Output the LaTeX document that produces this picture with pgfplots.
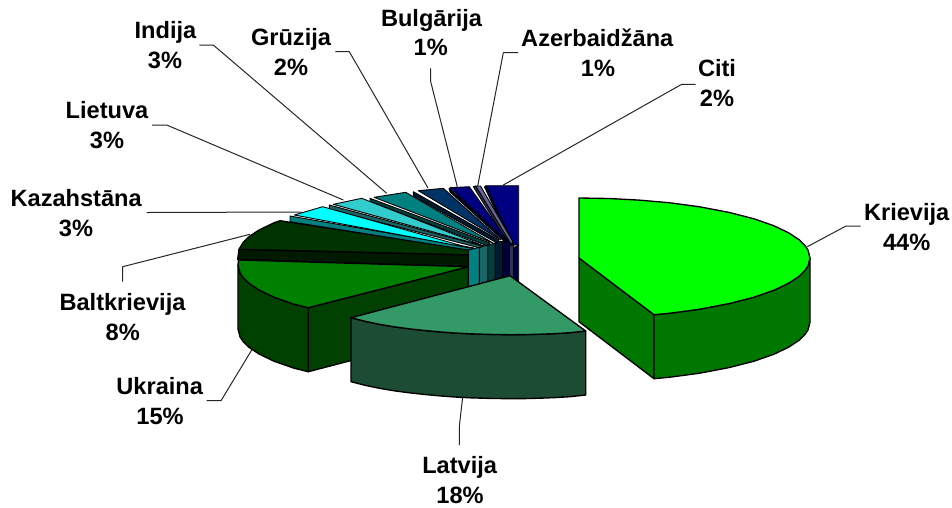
\documentclass[border=0pt]{standalone}
\usepackage{fontspec}
\setmainfont{Liberation Sans}
\usepackage{pgfplots}
\pgfplotsset{compat=1.18}
\definecolor{krT}{HTML}{00FF00}\definecolor{krS}{HTML}{007800}
\definecolor{laT}{HTML}{339966}\definecolor{laS}{HTML}{1C4C33}
\definecolor{ukT}{HTML}{008000}\definecolor{ukS}{HTML}{004000}
\definecolor{baT}{HTML}{003300}\definecolor{baS}{HTML}{001A00}
\definecolor{kaT}{HTML}{00FFFF}\definecolor{kaS}{HTML}{008080}
\definecolor{liT}{HTML}{33CCCC}\definecolor{liS}{HTML}{1A6666}
\definecolor{inT}{HTML}{008080}\definecolor{inS}{HTML}{004040}
\definecolor{grT}{HTML}{003366}\definecolor{grS}{HTML}{001A33}
\definecolor{buT}{HTML}{000080}\definecolor{buS}{HTML}{000040}
\definecolor{azT}{HTML}{666699}\definecolor{azS}{HTML}{33334D}
\definecolor{ciT}{HTML}{000080}\definecolor{ciS}{HTML}{000040}
\tikzset{
 face/.style={draw=black,line width=1.35pt,line join=round,fill=#1},
 fan/.style={draw=black,line width=0.9pt,line join=round,fill=#1},
 lead/.style={draw=black!85,line width=1pt,line join=round},
 lab/.style={anchor=base,font=\fontsize{23.6}{26}\selectfont\bfseries,inner sep=0pt,text=black}
}
\begin{document}
\begin{tikzpicture}
\begin{axis}[
 width=952pt,height=507pt,scale only axis,
 xmin=0,xmax=952,ymin=0,ymax=507,y dir=reverse,
 axis line style={draw=none},ticks=none,clip=false]
% leader lines
\addplot[lead] coordinates {(860.7,226)(846,226)(807.3,246.7)};
\addplot[lead] coordinates {(462.7,396.7)(459.3,426.7)(459.3,445)};
\addplot[lead] coordinates {(206.7,400.7)(221,400.7)(251.7,350)};
\addplot[lead] coordinates {(122.7,281.7)(122.7,266.7)(250,234.3)};
\addplot[lead] coordinates {(146.7,212.5)(301.7,212)};
\addplot[lead] coordinates {(152,125)(166.7,125)(343.3,200)};
\addplot[lead] coordinates {(199.3,45)(213.3,45)(386.7,193.3)};
\addplot[lead] coordinates {(335.3,51.7)(349.3,51.7)(428,188)};
\addplot[lead] coordinates {(430.7,68.3)(430.7,81.7)(457.3,186.7)};
\addplot[lead] coordinates {(518,52.7)(503.3,52.7)(477.7,186)};
\addplot[lead] coordinates {(695.7,84.3)(681.7,84.3)(503.3,185)};
% Baltkrievija
\addplot[face=baT] coordinates {(239,249.4)(243,242.6)(249,236.7)(259,230)(274,222.8)(280,220.7)(470,250)(468.3,255)} --cycle;
\addplot[face=baS] coordinates {(239,249.4)(237.7,259.3)(468.3,266.7)(468.3,255)} --cycle;
% Ukraina
\addplot[face=ukS] coordinates {(308.3,307.7)(468.3,266.7)(468.3,330)(308.3,371.7)} --cycle;
\addplot[face=ukS] coordinates {(238,265)(240,272.9)(243,277.4)(249,283.3)(259,290)(274,297.2)(294,304.2)(308.3,307.7)(308.3,371.7)(294,368.2)(274,361.2)(259,354)(249,347.3)(243,341.4)(240,336.9)(238,329)} --cycle;
\addplot[face=ukT] coordinates {(238.5,260)(238,265)(240,272.9)(243,277.4)(249,283.3)(259,290)(274,297.2)(294,304.2)(308.3,307.7)(468.3,266.7)} --cycle;
% Citi
\addplot[fan=ciS] coordinates {(513.3,248)(518.7,245)(518.7,283)(513.3,283)} --cycle;
\addplot[fan=ciS] coordinates {(484.5,187)(486,185.7)(514,245)(513.3,249)} --cycle;
\addplot[fan=ciT] coordinates {(486,185.7)(518.7,185.7)(518.7,245)(514,245)} --cycle;
% Azerbaidzana
\addplot[fan=azS] coordinates {(509.3,245)(513.3,245)(513.3,283)(509.3,283)} --cycle;
\addplot[fan=azS] coordinates {(473.3,186.7)(475.7,186)(511.7,243)(510,246)} --cycle;
\addplot[fan=azT] coordinates {(475.7,186)(480.5,186)(512.5,241)(511.7,245)} --cycle;
% Bulgarija
\addplot[fan=buS] coordinates {(502,241)(509.3,241)(509.3,298)(502,298)} --cycle;
\addplot[fan=buS] coordinates {(449,188.3)(450,192)(505,242)(508,241)} --cycle;
\addplot[fan=buT] coordinates {(450,187.7)(469.3,186.7)(508.3,241.7)} --cycle;
% Gruzija
\addplot[fan=grS] coordinates {(495,241)(502,241)(502,298)(495,298)} --cycle;
\addplot[fan=grS] coordinates {(413.3,191.7)(413.3,196)(497,243)(499,240)} --cycle;
\addplot[fan=grT] coordinates {(418.3,190.7)(443.3,188.3)(501,240)} --cycle;
% Indija
\addplot[fan=inS] coordinates {(487.7,245)(495,243)(495,298)(487.7,298)} --cycle;
\addplot[fan=inS] coordinates {(370,198.3)(370,201.7)(488,246)(490,243)} --cycle;
\addplot[fan=inT] coordinates {(374,197.3)(405.7,192.3)(493,243)} --cycle;
% Lietuva
\addplot[fan=liS] coordinates {(479.3,247.3)(487.7,245)(487.7,298)(479.3,298)} --cycle;
\addplot[fan=liS] coordinates {(329.3,205)(329.3,209.3)(480,248)(482,246)} --cycle;
\addplot[fan=liT] coordinates {(333.3,204.3)(361.7,198.3)(484,246)} --cycle;
% Kazahstana
\addplot[fan=kaS] coordinates {(468.3,250)(479.3,247.3)(479.3,298)(468.3,298)} --cycle;
\addplot[fan=kaS] coordinates {(290,216)(290,221.7)(468.3,250)(474,248)} --cycle;
\addplot[fan=kaT] coordinates {(294.3,215)(322.7,206.7)(470,248)} --cycle;
% Latvija
\addplot[face=laS] coordinates {(351,317.7)(365,321.3)(380.5,324.5)(395,326.9)(410,328.9)(425,330.5)(440,331.9)(455,333)(470,333.8)(490,334.4)(510,334.7)(525,334.6)(540,334.2)(555,333.6)(570,332.7)(585.7,331)(585.7,395)(570,396.7)(555,397.6)(540,398.2)(525,398.6)(510,398.7)(490,398.4)(470,397.8)(455,397)(440,395.9)(425,394.5)(410,392.9)(395,390.9)(380.5,388.5)(365,385.3)(351,381.7)} --cycle;
\addplot[face=laT] coordinates {(510,275.7)(585.7,331)(570,332.7)(555,333.6)(540,334.2)(525,334.6)(510,334.7)(490,334.4)(470,333.8)(455,333)(440,331.9)(425,330.5)(410,328.9)(395,326.9)(380.5,324.5)(365,321.3)(351,317.7)} --cycle;
% Krievija
\addplot[face=krS] coordinates {(579,258)(654,314.7)(654,378.7)(579,321.7)} --cycle;
\addplot[face=krS] coordinates {(810,258)(808,265.9)(805,270.4)(799,276.3)(789,283)(774,290.2)(754,297.2)(729,303.6)(699,309.3)(669,313.3)(654,314.7)(654,378.7)(669,377.3)(699,373.3)(729,367.6)(754,361.2)(774,354.2)(789,347)(799,340.3)(805,334.4)(808,329.9)(810,322)} --cycle;
\addplot[face=krT] coordinates {(579,198)(609,198.5)(639,200.1)(669,202.7)(699,206.7)(729,212.4)(754,218.8)(774,225.8)(789,233)(799,239.7)(805,245.6)(808,250.1)(810,258)(808,265.9)(805,270.4)(799,276.3)(789,283)(774,290.2)(754,297.2)(729,303.6)(699,309.3)(669,313.3)(654,314.7)(579,258)} --cycle;
% labels
\node[lab] at (axis cs:906.7,220) {Krievija};
\node[lab] at (axis cs:906.7,250) {44\%};
\node[lab] at (axis cs:459.7,473.3) {Latvija};
\node[lab] at (axis cs:460,503.3) {18\%};
\node[lab] at (axis cs:159.7,394) {Ukraina};
\node[lab] at (axis cs:160,424) {15\%};
\node[lab] at (axis cs:122.5,310) {Baltkrievija};
\node[lab] at (axis cs:122.7,340) {8\%};
\node[lab] at (axis cs:76.2,206) {Kazahstāna};
\node[lab] at (axis cs:76,236) {3\%};
\node[lab] at (axis cs:107,118.3) {Lietuva};
\node[lab] at (axis cs:107,148.3) {3\%};
\node[lab] at (axis cs:165.5,38.3) {Indija};
\node[lab] at (axis cs:165,68.3) {3\%};
\node[lab] at (axis cs:291,45) {Grūzija};
\node[lab] at (axis cs:291,75) {2\%};
\node[lab] at (axis cs:431.5,26) {Bulgārija};
\node[lab] at (axis cs:430.7,55.7) {1\%};
\node[lab] at (axis cs:597.3,46.7) {Azerbaidžāna};
\node[lab] at (axis cs:598,76) {1\%};
\node[lab] at (axis cs:717,76) {Citi};
\node[lab] at (axis cs:717,106) {2\%};
\end{axis}
\end{tikzpicture}
\end{document}
